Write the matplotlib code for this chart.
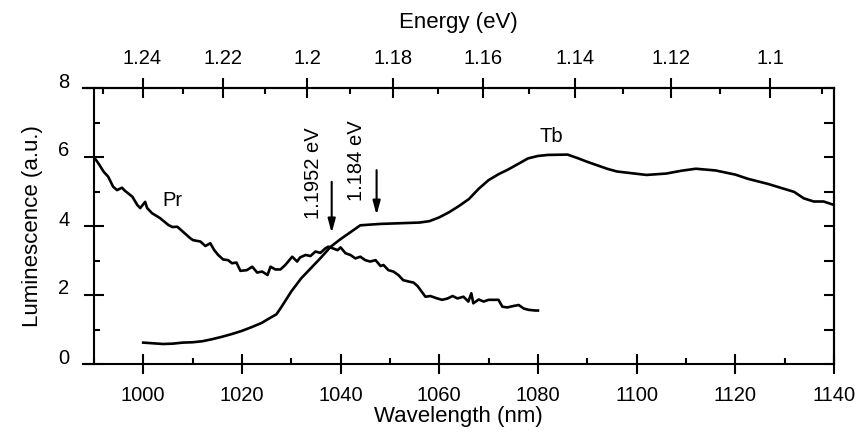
import numpy as np
import matplotlib
matplotlib.use('Agg')
import matplotlib.pyplot as plt
from matplotlib.ticker import MultipleLocator, FixedLocator
from matplotlib.transforms import ScaledTranslation

plt.rcParams['font.family'] = ['Liberation Sans', 'DejaVu Sans']

# Tb luminescence
tb_wl = [1000, 1002, 1004, 1006, 1008, 1010, 1012, 1014, 1016, 1018, 1020, 1022, 1024,
         1026, 1027, 1028, 1030, 1032, 1034, 1036, 1038, 1040, 1042, 1044, 1048, 1052,
         1056, 1058, 1060, 1062, 1064, 1066, 1068, 1070, 1072, 1074, 1076, 1078, 1080,
         1082, 1086, 1088, 1090, 1092, 1094, 1096, 1099, 1102, 1106, 1109, 1112, 1116,
         1120, 1122.5, 1126.6, 1131.9, 1133.9, 1135.9, 1137.9, 1140]
tb_lum = [0.62, 0.60, 0.58, 0.59, 0.62, 0.63, 0.66, 0.72, 0.79, 0.87, 0.96, 1.07, 1.19,
          1.36, 1.44, 1.65, 2.10, 2.48, 2.78, 3.08, 3.40, 3.62, 3.82, 4.02, 4.06, 4.08,
          4.10, 4.14, 4.25, 4.40, 4.58, 4.78, 5.08, 5.33, 5.50, 5.64, 5.80, 5.96, 6.03,
          6.06, 6.07, 5.97, 5.86, 5.76, 5.66, 5.58, 5.53, 5.48, 5.52, 5.60, 5.66, 5.61,
          5.49, 5.37, 5.22, 4.99, 4.80, 4.71, 4.71, 4.61]

# Pr luminescence
pr_wl = [990, 991, 992, 992.9, 993.9, 994.7, 995.7, 996.3, 997.8, 998.8, 999.4, 1000.4,
         1000.8, 1001.8, 1003.4, 1005.1, 1005.9, 1006.9, 1007.7, 1009.5, 1010.1, 1011.6,
         1012.6, 1013.6, 1014.4, 1015.2, 1016.2, 1017.2, 1018, 1018.9, 1019.7, 1021,
         1022.1, 1023.1, 1024.1, 1025.2, 1025.8, 1026.8, 1027.8, 1028.8, 1030.2, 1031.2,
         1031.8, 1032.9, 1033.9, 1034.9, 1035.9, 1036.9, 1037.5, 1038.3, 1039.4, 1040,
         1041, 1042, 1043, 1044, 1045, 1046, 1047.1, 1048.1, 1048.7, 1049.7, 1050.7,
         1051.7, 1052.7, 1053.8, 1054.8, 1055.6, 1057.2, 1058.2, 1059.6, 1060.6, 1061.7,
         1062.7, 1063.7, 1064.9, 1065.9, 1066.5, 1066.9, 1068, 1069, 1070, 1072, 1072.8,
         1073.8, 1075, 1076.1, 1077.1, 1078.1, 1079.5, 1080]
pr_lum = [6.00, 5.80, 5.57, 5.43, 5.14, 5.04, 5.11, 5.02, 4.85, 4.61, 4.52, 4.70,
          4.52, 4.37, 4.23, 4.03, 3.97, 3.98, 3.88, 3.65, 3.59, 3.55,
          3.42, 3.50, 3.30, 3.16, 3.03, 3.01, 2.92, 2.94, 2.70, 2.72,
          2.82, 2.65, 2.68, 2.58, 2.82, 2.74, 2.74, 2.87, 3.11, 2.97,
          3.09, 3.16, 3.13, 3.26, 3.22, 3.35, 3.40, 3.36, 3.30, 3.38,
          3.21, 3.16, 3.06, 3.11, 3.01, 2.97, 3.01, 2.84, 2.87, 2.72, 2.68,
          2.58, 2.43, 2.39, 2.36, 2.26, 1.95, 1.97, 1.90, 1.86, 1.90,
          1.97, 1.90, 1.95, 1.81, 2.05, 1.76, 1.87, 1.81, 1.86, 1.86, 1.66,
          1.64, 1.68, 1.71, 1.61, 1.57, 1.55, 1.55]

energy_ticks = [1.1, 1.12, 1.14, 1.16, 1.18, 1.2, 1.22, 1.24]
energy_labels = ['1.1', '1.12', '1.14', '1.16', '1.18', '1.2', '1.22', '1.24']
# arrows: (wavelength, start, tip, label, label x, label y)
marks = [(1038.2, 5.28, 3.80, '1.1952 eV', 1034.6, 5.54),
         (1047.3, 5.62, 4.32, '1.184 eV', 1043.3, 5.88)]

HC = 1239.84

fig = plt.figure(figsize=(8.62, 4.33), dpi=100)
ax = fig.add_axes([83 / 862, 1 - 364 / 433, (834 - 83) / 862, (364 - 88) / 433])

ax.plot(tb_wl, tb_lum, color='black', lw=1.9)
ax.plot(pr_wl, pr_lum, color='black', lw=1.9)

ax.set_xlim(987.8, 1140)
ax.set_ylim(0, 8)
ax.spines['left'].set_position(('data', 990))
for s in ax.spines.values():
    s.set_linewidth(1.5)

ax.xaxis.set_major_locator(MultipleLocator(20))
ax.xaxis.set_minor_locator(MultipleLocator(10))
ax.yaxis.set_major_locator(MultipleLocator(2))
ax.yaxis.set_minor_locator(MultipleLocator(1))
ax.tick_params(which='major', direction='inout', length=15, width=1.5, labelsize=14.5)
ax.tick_params(which='minor', direction='in', length=4.5, width=1.5)
ax.tick_params(axis='x', which='major', pad=8)
ax.tick_params(axis='y', which='major', pad=10)

# shift y labels upwards like the original
for lab in ax.get_yticklabels():
    lab.set_transform(lab.get_transform() + ScaledTranslation(0, 8 / 100, fig.dpi_scale_trans))

ax.set_xlabel('Wavelength (nm)', fontsize=16, labelpad=1)
ax.set_ylabel('Luminescence (a.u.)', fontsize=16, labelpad=11)

# right side ticks
ry = ax.secondary_yaxis('right')
ry.yaxis.set_major_locator(MultipleLocator(1))
ry.tick_params(direction='in', length=7, width=1.5, labelright=False)
ry.spines['right'].set_linewidth(1.5)

# top energy axis
top = ax.secondary_xaxis('top', functions=(lambda x: HC / x, lambda e: HC / e))
top.xaxis.set_major_locator(FixedLocator(energy_ticks))
top.set_xticklabels(energy_labels)
top.xaxis.set_minor_locator(MultipleLocator(0.01))
top.tick_params(which='major', direction='inout', length=15, width=1.5, labelsize=14.5, pad=7)
top.tick_params(which='minor', direction='in', length=4.5, width=1.5)
top.spines['top'].set_linewidth(1.5)
top.set_xlabel('Energy (eV)', fontsize=16, labelpad=15)

ax.text(1006, 4.75, 'Pr', fontsize=14.5, ha='center', va='center')
ax.text(1082.7, 6.58, 'Tb', fontsize=14.5, ha='center', va='center')

for wl, y0, y1, txt, tx, ty in marks:
    ax.annotate('', xy=(wl, y1), xytext=(wl, y0),
                arrowprops=dict(arrowstyle='-|>,head_length=0.55,head_width=0.15',
                                color='black', lw=1.5, mutation_scale=15,
                                shrinkA=0, shrinkB=0))
    ax.text(tx, ty, txt, rotation=90, fontsize=14.5, ha='center', va='center')

fig.savefig('out.png', dpi=100)
